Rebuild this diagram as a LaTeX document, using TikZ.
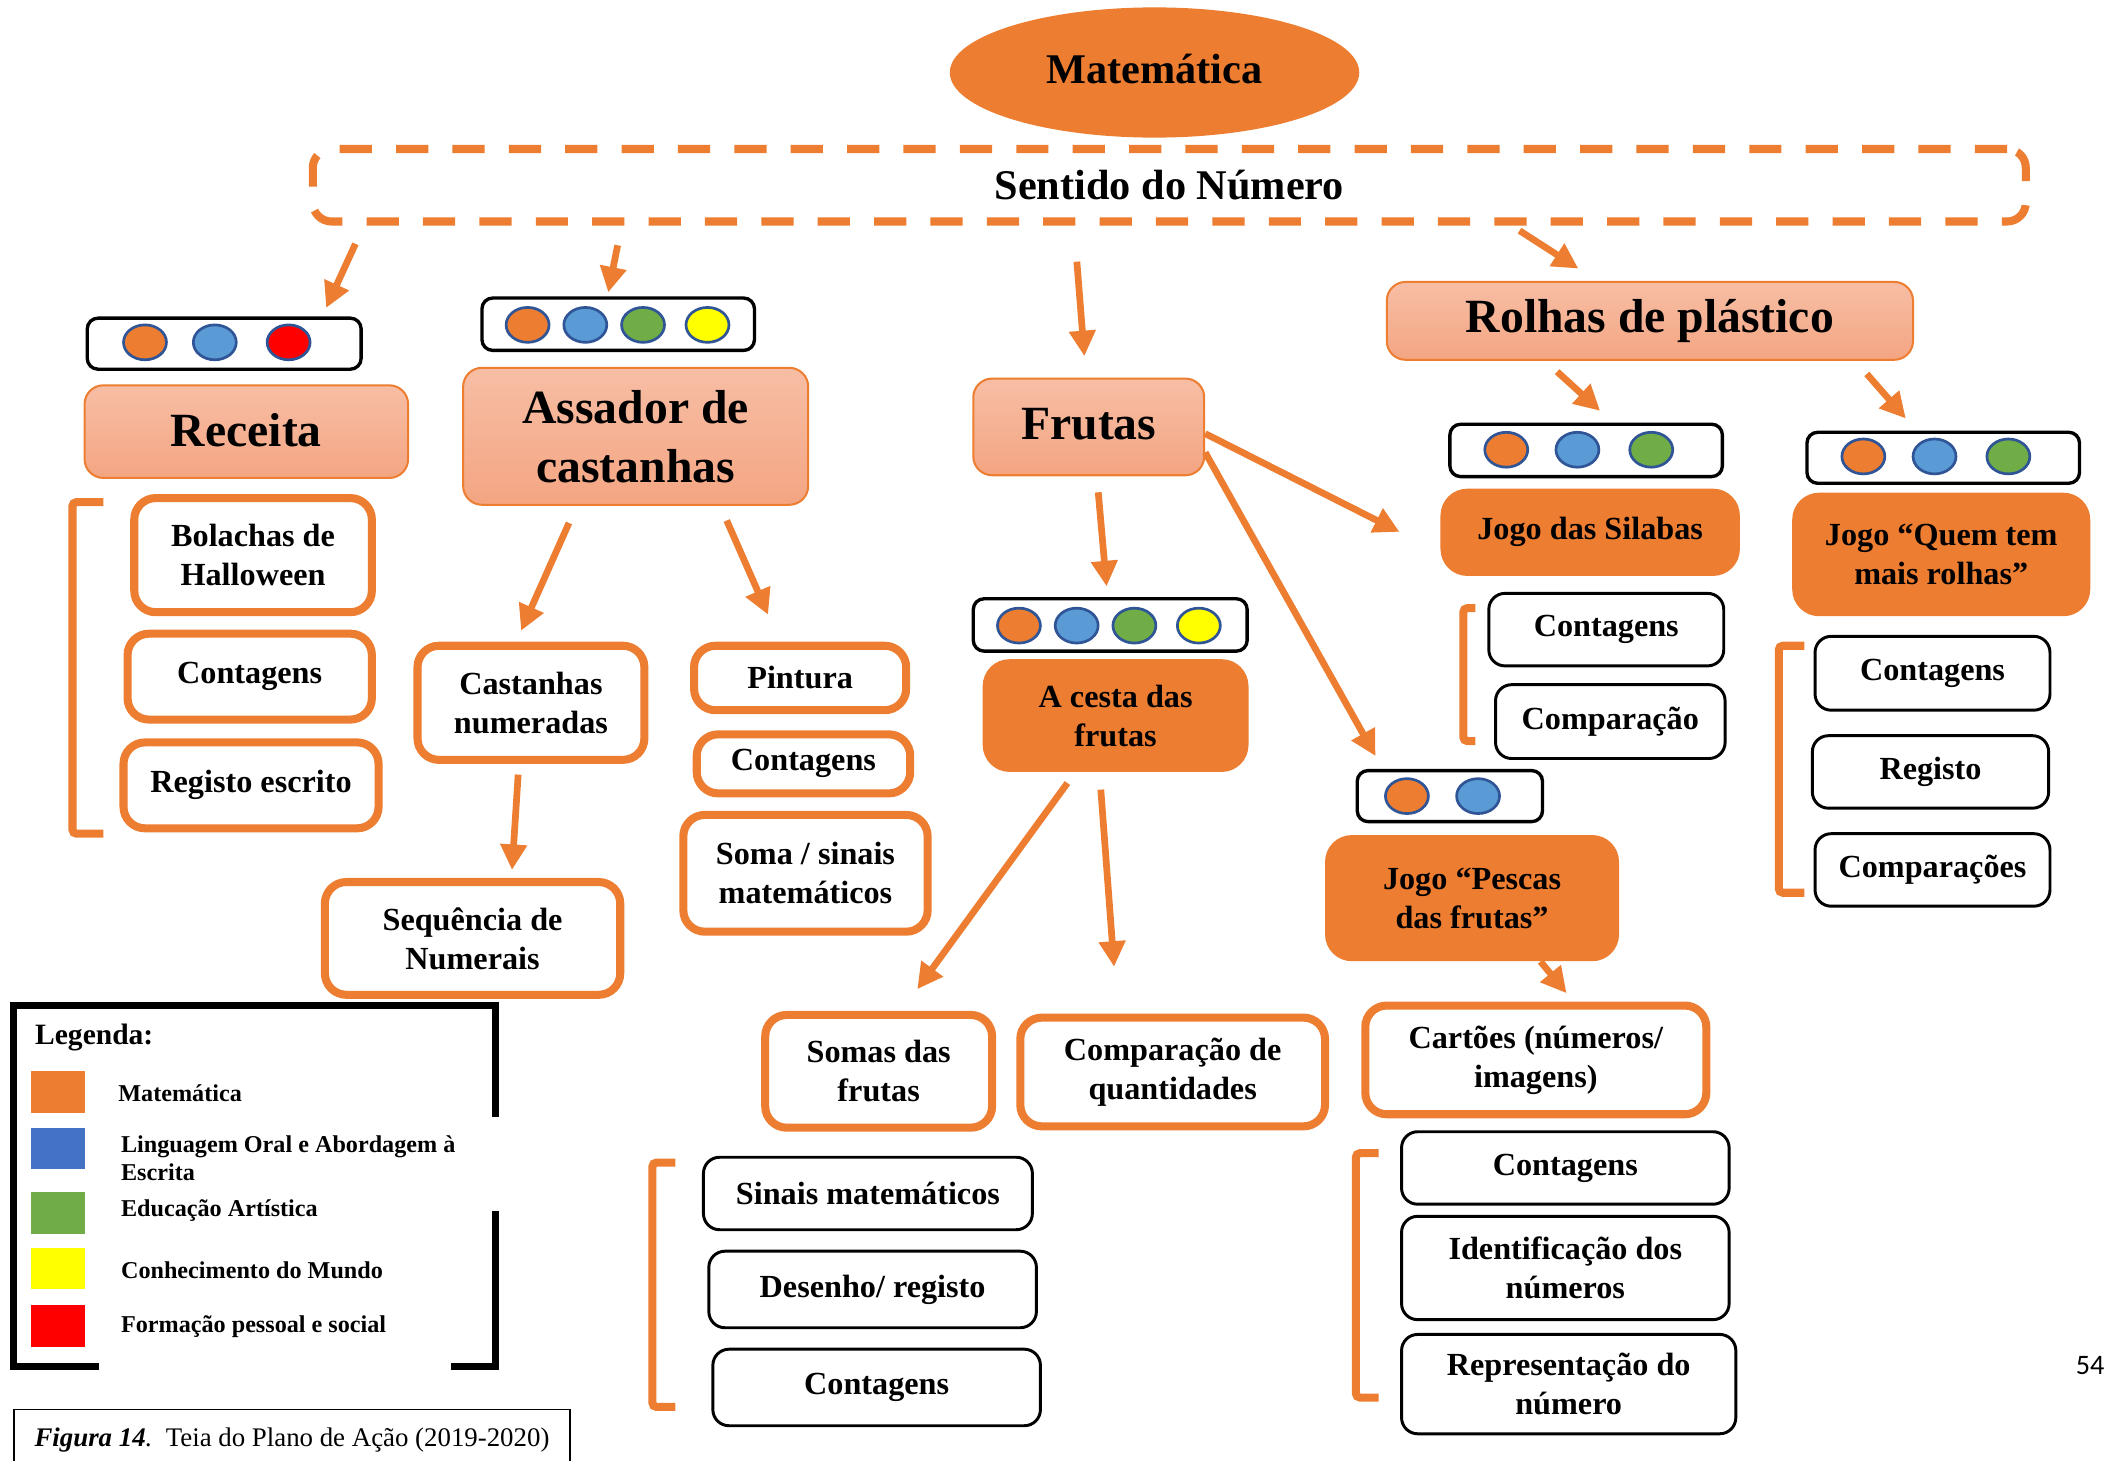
\documentclass[tikz,border=0pt]{standalone}
\usepackage{fontspec}
\setmainfont{Liberation Serif}
\newfontfamily\pagefont{Carlito}
\usetikzlibrary{arrows.meta,shapes.geometric}

\definecolor{laranja}{HTML}{ED7D31}
\definecolor{salmaoA}{HTML}{F7BEA5}
\definecolor{salmaoB}{HTML}{F4A582}
\definecolor{azul}{HTML}{5B9BD5}
\definecolor{azulesc}{HTML}{4472C4}
\definecolor{verde}{HTML}{70AD47}
\definecolor{amarelo}{HTML}{FFFF00}
\definecolor{vermelho}{HTML}{FF0000}
\definecolor{contorno}{HTML}{2F5597}

\begin{document}
\begin{tikzpicture}[x=1pt,y=-1pt,
	tema node/.style = {draw=laranja, line width=1.5pt, rounded corners=14pt,
		top color=salmaoA, bottom color=salmaoB, align=center, inner sep=0pt,
		font=\fontsize{35.5}{44}\selectfont\bfseries},
	jogo node/.style = {fill=laranja, rounded corners=20pt, align=center, inner sep=0pt,
		font=\fontsize{24}{29}\selectfont\bfseries},
	passo node/.style = {draw=laranja, line width=6pt, rounded corners=16pt, fill=white,
		align=center, inner sep=0pt, font=\fontsize{24}{29}\selectfont\bfseries},
	tarefa node/.style = {draw=black, line width=2.2pt, rounded corners=12pt, fill=white,
		align=center, inner sep=0pt, font=\fontsize{24}{29}\selectfont\bfseries},
	area box/.style = {draw=black, line width=2.5pt, rounded corners=8pt, inner sep=0pt},
	dot node/.style = {ellipse, draw=contorno, line width=2pt, minimum width=32pt,
		minimum height=26pt, inner sep=0pt},
	seta/.style = {draw=laranja, line width=5pt, -{Triangle[length=19pt,width=19pt]}},
	colchete/.style = {draw=laranja, line width=6pt, rounded corners=3pt},
	leg text/.style = {anchor=west, align=left, inner sep=0pt,
		font=\fontsize{18}{21}\selectfont\bfseries}]

	\useasboundingbox (0,0) rectangle (1568,1088);

	% topo
	\node[ellipse, fill=laranja, minimum width=305pt, minimum height=97pt,
		font=\fontsize{31.5}{36}\selectfont\bfseries] (mat) at (860,54) {\raisebox{5pt}{Matemática}};
	\node[draw=laranja, line width=6pt, dash pattern=on 24pt off 18pt, rounded corners=14pt,
		minimum width=1276pt, minimum height=54pt,
		font=\fontsize{31.5}{36}\selectfont\bfseries] (sentido) at (871,138) {\raisebox{-2pt}{Sentido do Número}};

	% projetos
	\node[tema node, minimum width=241pt, minimum height=69pt] (receita) at (183.5,321.5) {\raisebox{2pt}{Receita}};
	\node[tema node, minimum width=257pt, minimum height=102pt] (assador) at (473.5,325) {Assador de\\castanhas};
	\node[tema node, minimum width=172pt, minimum height=72pt] (frutas) at (811,318) {\raisebox{4pt}{Frutas}};
	\node[tema node, minimum width=392pt, minimum height=58pt] (rolhas) at (1229,239) {\raisebox{-4pt}{Rolhas de plástico}};

	% areas de conteudo
	\node[area box, minimum width=204pt, minimum height=38pt] (a1) at (167,256) {};
	\foreach \x/\c [count=\i] in {108/laranja,160/azul,215/vermelho}
		\node[dot node, fill=\c] (a1-\i) at (\x,255) {};
	\node[area box, minimum width=203pt, minimum height=39pt] (a2) at (460.5,241.5) {};
	\foreach \x/\c [count=\i] in {393/laranja,436/azul,479/verde,527/amarelo}
		\node[dot node, fill=\c] (a2-\i) at (\x,242) {};
	\node[area box, minimum width=204pt, minimum height=39pt] (a3) at (827,465.5) {};
	\foreach \x/\c [count=\i] in {759/laranja,802/azul,845/verde,893/amarelo}
		\node[dot node, fill=\c] (a3-\i) at (\x,466) {};
	\node[area box, minimum width=203pt, minimum height=39pt] (a4) at (1181.5,335.5) {};
	\foreach \x/\c [count=\i] in {1122/laranja,1175/azul,1230/verde}
		\node[dot node, fill=\c] (a4-\i) at (\x,335) {};
	\node[area box, minimum width=203pt, minimum height=38pt] (a5) at (1447.5,341) {};
	\foreach \x/\c [count=\i] in {1388/laranja,1441/azul,1496/verde}
		\node[dot node, fill=\c] (a5-\i) at (\x,340) {};
	\node[area box, minimum width=138pt, minimum height=38pt] (a6) at (1080,593) {};
	\foreach \x/\c [count=\i] in {1048/laranja,1101/azul}
		\node[dot node, fill=\c] (a6-\i) at (\x,593) {};

	% jogos
	\node[jogo node, minimum width=223pt, minimum height=65pt] (silabas) at (1184.5,396.5) {Jogo das Silabas};
	\node[jogo node, minimum width=222pt, minimum height=92pt] (quem) at (1446,413) {Jogo “Quem tem\\mais rolhas”};
	\node[jogo node, minimum width=198pt, minimum height=84pt] (cesta) at (831,533) {A cesta das\\frutas};
	\node[jogo node, minimum width=219pt, minimum height=94pt] (pescas) at (1096.5,669) {Jogo “Pescas\\das frutas”};

	% atividades
	\node[passo node, minimum width=177pt, minimum height=85pt] (bolachas) at (188.5,413.5) {Bolachas de\\Halloween};
	\node[passo node, minimum width=182pt, minimum height=64pt] (contR) at (186,504) {\raisebox{3pt}{Contagens}};
	\node[passo node, minimum width=190pt, minimum height=64pt] (registoE) at (187,585) {\raisebox{3pt}{Registo escrito}};
	\node[passo node, minimum width=169pt, minimum height=85pt] (castanhas) at (395.5,523.5) {Castanhas\\numeradas};
	\node[passo node, minimum width=158pt, minimum height=48pt] (pintura) at (596,505) {Pintura};
	\node[passo node, minimum width=159pt, minimum height=44pt] (contA) at (598.5,569) {\raisebox{-4pt}{Contagens}};
	\node[passo node, minimum width=182pt, minimum height=87pt] (soma) at (600,650.5) {Soma / sinais\\matemáticos};
	\node[passo node, minimum width=220pt, minimum height=84pt] (sequencia) at (352,699) {Sequência de\\Numerais};
	\node[passo node, minimum width=169pt, minimum height=84pt] (somasF) at (654.5,798) {Somas das\\frutas};
	\node[passo node, minimum width=227pt, minimum height=81pt] (compQ) at (873.5,798.5) {Comparação de\\quantidades};
	\node[passo node, minimum width=254pt, minimum height=81pt] (cartoes) at (1144,789.5) {Cartões (números/\\imagens)};

	\node[tarefa node, minimum width=175pt, minimum height=54pt] (contS) at (1196.5,469) {Contagens};
	\node[tarefa node, minimum width=171pt, minimum height=55pt] (compS) at (1199.5,537.5) {Comparação};
	\node[tarefa node, minimum width=175pt, minimum height=55pt] (contQ) at (1439.5,501.5) {Contagens};
	\node[tarefa node, minimum width=176pt, minimum height=54pt] (registoQ) at (1438,575) {Registo};
	\node[tarefa node, minimum width=175pt, minimum height=54pt] (compQs) at (1439.5,648) {Comparações};
	\node[tarefa node, minimum width=245pt, minimum height=54pt] (sinais) at (646.5,889) {Sinais matemáticos};
	\node[tarefa node, minimum width=244pt, minimum height=57pt] (desenho) at (650,960.5) {Desenho/ registo};
	\node[tarefa node, minimum width=244pt, minimum height=57pt] (contC) at (653,1033.5) {Contagens};
	\node[tarefa node, minimum width=244pt, minimum height=54pt] (contP) at (1166,870) {Contagens};
	\node[tarefa node, minimum width=244pt, minimum height=77pt] (identif) at (1166,944.5) {Identificação dos\\números};
	\node[tarefa node, minimum width=249pt, minimum height=74pt] (repres) at (1168.5,1031) {Representação do\\número};

	% colchetes
	\draw[colchete] (77,374) -| (54,621) -- (77,621);
	\draw[colchete] (1099,453) -| (1090,552) -- (1099,552);
	\draw[colchete] (1344,481) -| (1325,665) -- (1344,665);
	\draw[colchete] (503,866) -| (486,1048) -- (503,1048);
	\draw[colchete] (1027,859) -| (1010,1041) -- (1027,1041);

	% setas
	\draw[seta, shorten <=15pt, shorten >=7pt] ([xshift=41pt]sentido.south west) -- ([xshift=73pt]a1.north);
	\draw[seta, shorten <=15pt, shorten >=3pt] ([xshift=233pt]sentido.south west) -- ([xshift=-8pt]a2.north);
	\draw[seta, shorten <=27pt, shorten >=16pt] ([xshift=570pt]sentido.south west) -- ([xshift=-2pt]frutas.north);
	\draw[seta, shorten <=7pt, shorten >=17pt] ([xshift=255pt]sentido.south) -- ([xshift=-39pt]rolhas.north);
	\draw[seta, shorten <=14pt, shorten >=9pt] ([xshift=-44pt]assador.south) -- ([xshift=-11pt]castanhas.north);
	\draw[seta, shorten <=12pt, shorten >=22pt] ([xshift=63pt]assador.south) -- ([xshift=-15pt]pintura.north);
	\draw[seta, shorten <=8pt, shorten >=6pt] ([xshift=-9pt]castanhas.south) -- ([xshift=29pt]sequencia.north);
	\draw[seta, shorten <=12pt, shorten >=8pt] ([xshift=6pt]frutas.south) -- ([xshift=-2pt]a3.north);
	\draw[seta, shorten >=34pt] ([yshift=-5pt]frutas.east) -- ([yshift=-15pt]silabas.west);
	\draw[seta, shorten >=11pt] ([yshift=-19pt]frutas.east) -- ([xshift=-50pt]a6.north);
	\draw[seta, shorten <=12pt, shorten >=13pt] ([xshift=-78pt]rolhas.south) -- ([xshift=20pt]a4.north);
	\draw[seta, shorten <=13pt, shorten >=12pt] ([xshift=153pt]rolhas.south) -- ([xshift=-20pt]a5.north);
	\draw[seta, shorten <=10pt, shorten >=20pt] ([xshift=-30pt]cesta.south) -- ([xshift=17pt]somasF.north);
	\draw[seta, shorten <=13pt, shorten >=35pt] ([xshift=-12pt]cesta.south) -- ([xshift=-41pt]compQ.north);
	\draw[seta, shorten >=8pt] ([xshift=51pt]pescas.south) -- ([xshift=28pt]cartoes.north);

	% legenda
	\draw[line width=5pt] (74,1018) -| (10,749) -| (369,832);
	\draw[line width=5pt] (369,902) |- (336,1018);
	\node[anchor=west, inner sep=0pt, font=\fontsize{22}{24}\selectfont\bfseries] (legenda) at (26,773) {Legenda:};
	\foreach \y/\c [count=\i] in {813.5/laranja,855.5/azulesc,903.5/verde,945/amarelo,987.5/vermelho}
		\node[fill=\c, minimum width=40pt, minimum height=31pt, inner sep=0pt] (q\i) at (43,\y) {};
	\node[leg text] (l1) at (88,814) {Matemática};
	\node[leg text] (l2) at (90,862.5) {Linguagem Oral e Abordagem à\\Escrita};
	\node[leg text] (l3) at (90,902) {Educação Artística};
	\node[leg text] (l4) at (90,946) {Conhecimento do Mundo};
	\node[leg text] (l5) at (90,988) {Formação pessoal e social};

	\node[draw, line width=1pt, minimum width=414pt, minimum height=46pt, inner sep=0pt,
		font=\fontsize{20}{24}\selectfont] (figura) at (217.5,1073)
		{\textbf{\textit{Figura 14}}\textit{.}\ \ Teia do Plano de Ação (2019-2020)};
	\node[anchor=west, inner sep=0pt, font=\pagefont\fontsize{21}{24}\selectfont] (pagina) at (1546,1017) {54};
\end{tikzpicture}
\end{document}
